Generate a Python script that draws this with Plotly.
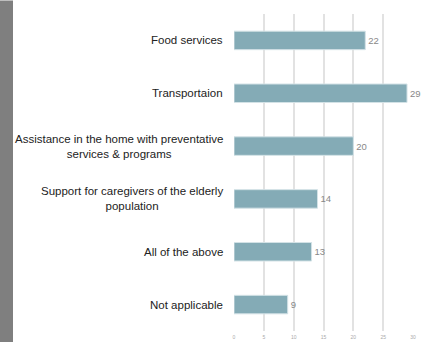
import plotly.graph_objects as go

categories = [
    "Food services",
    "Transportaion",
    "Assistance in the home with preventative<br>services & programs",
    "Support for caregivers of the elderly<br>population",
    "All of the above",
    "Not applicable",
]
values = [22, 29, 20, 14, 13, 9]
x_ticks = [0, 5, 10, 15, 20, 25, 30]

fig = go.Figure()
fig.add_trace(go.Bar(
    y=categories, x=values, orientation="h",
    marker=dict(color="#84ABB6", line=dict(color="#D3E2E6", width=1)),
    text=[str(v) for v in values], textposition="outside",
    textfont=dict(family="Liberation Sans, Arial, sans-serif", size=9.5, color="#888888"),
    cliponaxis=False, width=0.35,
))

for c in categories:
    fig.add_annotation(
        x=0, y=c, xref="x", yref="y", text=c, showarrow=False,
        xanchor="right", align="center", xshift=-9,
        font=dict(family="Liberation Sans, Arial, sans-serif", size=11.5, color="#222222"),
    )

fig.add_shape(type="rect", xref="paper", yref="paper",
              x0=-234/179, x1=(13-234)/179, y0=-11/317.4, y1=331/317.4,
              fillcolor="#7F7F7F", line=dict(width=0), layer="below")

fig.update_layout(
    width=433, height=342,
    margin=dict(l=234, r=20, t=13.6, b=11, autoexpand=False),
    plot_bgcolor="white", paper_bgcolor="white",
    showlegend=False,
    xaxis=dict(range=[0, 30], tickvals=x_ticks, showgrid=True, gridcolor="#E2E2E2", gridwidth=1.5,
               zeroline=False, showline=False,
               tickfont=dict(family="Liberation Sans, Arial, sans-serif", size=5, color="#AAAAAA"),
               ticks="", ticklabelstandoff=2),
    yaxis=dict(categoryorder="array", categoryarray=categories, autorange="reversed",
               showticklabels=False, showgrid=False, zeroline=False, ticks=""),
)

fig.write_html("out.html", config={"displayModeBar": False},
               post_script="document.body.style.margin='0';document.body.style.overflow='hidden';")
